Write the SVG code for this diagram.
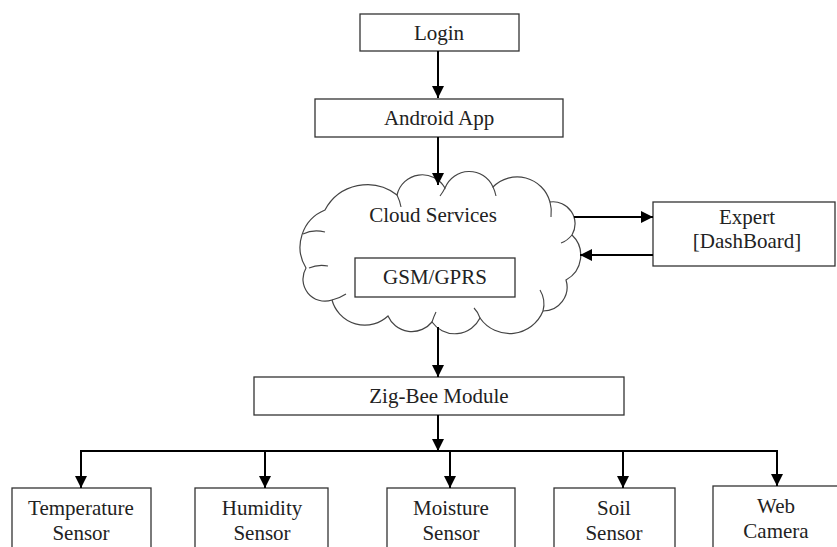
<svg xmlns="http://www.w3.org/2000/svg" width="837" height="547" viewBox="0 0 837 547">
<defs>
<marker id="ah" markerUnits="userSpaceOnUse" markerWidth="12" markerHeight="12" viewBox="0 0 10 10" refX="10" refY="5" orient="auto">
<path d="M0,0 L10,5 L0,10 Z" fill="#000"/>
</marker>
<style>
.box{fill:#fff;stroke:#333;stroke-width:1.3}
.cloud{fill:#fff;stroke:#444;stroke-width:1.2}
.inner{fill:none;stroke:#444;stroke-width:1.1}
text{font-family:'Liberation Serif','DejaVu Serif','Times New Roman',serif;font-size:21px;fill:#222;text-anchor:middle}
.c{fill:none;stroke:#000;stroke-width:2}
.a{fill:none;stroke:#000;stroke-width:2;marker-end:url(#ah)}
</style>
</defs>
<rect width="837" height="547" fill="#fff"/>
<g id="cloud">
<path class="cloud" d="M325,210 A48,48 0 0 1 397,195 A26,26 0 0 1 445,188 A26,26 0 0 1 493,187 A34,34 0 0 1 550,202 A22,22 0 0 1 572,235 A28,28 0 0 1 566,280 A24,24 0 0 1 543,311 A36,36 0 0 1 480,318 A28,28 0 0 1 432,322 A26,26 0 0 1 388,316 A34,34 0 0 1 332,300 A22,22 0 0 1 306,268 A40,40 0 0 1 325,210 Z"/>
<path class="inner" d="M303,234 Q313,229 325,232"/>
<path class="inner" d="M309,268 Q318,264 328,266"/>
<path class="inner" d="M397,195 Q400,201 401,207"/>
<path class="inner" d="M445,188 Q443,192 440,196"/>
<path class="inner" d="M493,187 Q495,191 496,196"/>
<path class="inner" d="M550,202 Q552,209 551,217"/>
<path class="inner" d="M572,235 Q567,241 561,243"/>
<path class="inner" d="M543,311 Q546,300 540,290"/>
<path class="inner" d="M480,318 Q478,312 474,308"/>
<path class="inner" d="M432,322 Q434,316 436,312"/>
<path class="inner" d="M332,300 Q340,298 346,294"/>
<text x="433" y="222">Cloud Services</text>
</g>
<g id="login"><rect class="box" x="360" y="14" width="159" height="37"/><text x="439" y="40">Login</text></g>
<g id="android"><rect class="box" x="315" y="99" width="248" height="38"/><text x="439" y="125">Android App</text></g>
<g id="gsm"><rect class="box" x="355" y="258" width="160" height="39"/><text x="435" y="284">GSM/GPRS</text></g>
<g id="expert"><rect class="box" x="653" y="202" width="182" height="64"/><text x="747" y="224">Expert</text><text x="747" y="248">[DashBoard]</text></g>
<g id="zigbee"><rect class="box" x="254" y="377" width="370" height="38"/><text x="439" y="403">Zig-Bee Module</text></g>
<g id="temp"><rect class="box" x="12" y="488" width="139" height="70"/><text x="81" y="515">Temperature</text><text x="81" y="540">Sensor</text></g>
<g id="humidity"><rect class="box" x="195" y="488" width="133" height="70"/><text x="262" y="515">Humidity</text><text x="262" y="540">Sensor</text></g>
<g id="moisture"><rect class="box" x="387" y="488" width="128" height="70"/><text x="451" y="515">Moisture</text><text x="451" y="540">Sensor</text></g>
<g id="soil"><rect class="box" x="554" y="488" width="121" height="70"/><text x="614" y="515">Soil</text><text x="614" y="540">Sensor</text></g>
<g id="webcam"><rect class="box" x="713" y="486" width="130" height="70"/><text x="776" y="513">Web</text><text x="776" y="538">Camera</text></g>
<g id="connectors">
<line class="a" x1="438" y1="51" x2="438" y2="98"/>
<line class="a" x1="438" y1="137" x2="438" y2="185"/>
<line class="a" x1="574" y1="217" x2="653" y2="217"/>
<line class="a" x1="653" y1="255" x2="580" y2="255"/>
<line class="a" x1="438" y1="327" x2="438" y2="377"/>
<line class="a" x1="438" y1="415" x2="438" y2="451"/>
<polyline class="c" points="81,458 81,451 777,451 777,458"/>
<line class="a" x1="81" y1="451" x2="81" y2="488"/>
<line class="a" x1="265" y1="451" x2="265" y2="488"/>
<line class="a" x1="450" y1="451" x2="450" y2="488"/>
<line class="a" x1="623" y1="451" x2="623" y2="488"/>
<line class="a" x1="777" y1="451" x2="777" y2="486"/>
</g>
</svg>
